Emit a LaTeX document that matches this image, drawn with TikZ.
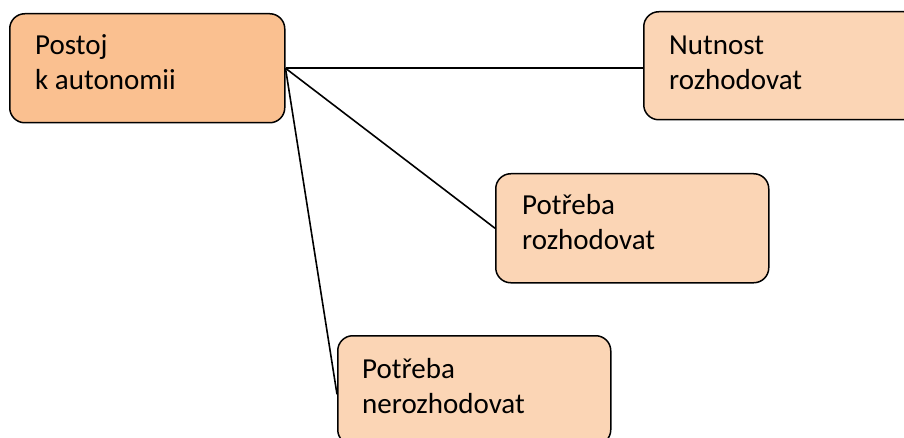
\documentclass[tikz,border=0pt]{standalone}
\usepackage{fontspec}
\setmainfont{Carlito}
\definecolor{mainfill}{HTML}{FAC090}
\definecolor{subfill}{HTML}{FBD5B5}
\begin{document}
\begin{tikzpicture}[x=1pt,y=-1pt,
  box/.style={draw=black,line width=1.5pt,rounded corners=15pt,inner sep=0pt,anchor=north west},
  txt/.style={anchor=base west,inner sep=0pt,align=left,font=\fontsize{29}{35}\selectfont},
  conn/.style={draw=black,line width=1.6pt}]
\useasboundingbox (0,0) rectangle (904,438);
\clip (0,0) rectangle (904,438);
\node[box,fill=mainfill,minimum width=275pt,minimum height=109pt] (main) at (9,13) {};
\node[box,fill=subfill,minimum width=275pt,minimum height=108pt] (nut) at (643,11) {};
\node[box,fill=subfill,minimum width=273pt,minimum height=109pt] (roz) at (495,173) {};
\node[box,fill=subfill,minimum width=273pt,minimum height=109pt] (nero) at (337,335) {};
\node[txt] (mainT) at (35,90) {Postoj\\k autonomii};
\node[txt] (nutT) at (669,90) {Nutnost\\rozhodovat};
\node[txt] (rozT) at (522,250) {Potřeba\\rozhodovat};
\node[txt] (neroT) at (362,413) {Potřeba\\nerozhodovat};
\draw[conn] (main.east) -- (main.east -| nut.west);
\draw[conn] (main.east) -- (roz.west);
\draw[conn] (main.east) -- ([yshift=-4pt]nero.west);
\end{tikzpicture}
\end{document}
